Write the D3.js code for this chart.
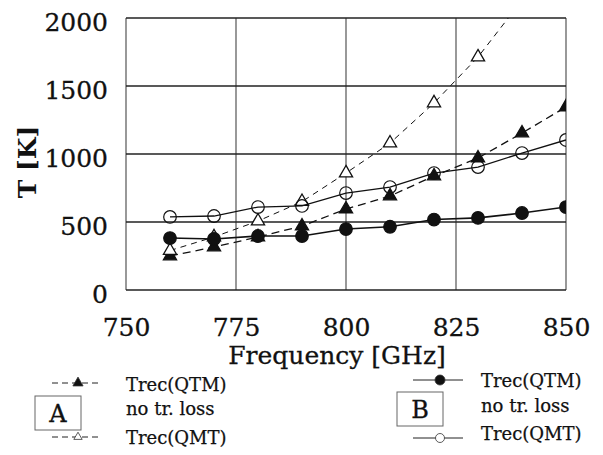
<!DOCTYPE html>
<html>
<head>
<meta charset="utf-8">
<script src="https://cdn.jsdelivr.net/npm/d3@7"></script>
<style>
  body { margin: 0; background: #fff; }
  svg text { font-family: "DejaVu Serif", "Liberation Serif", serif; fill: #111; }
</style>
</head>
<body>
<div id="chart-area"></div>
<script>
// frequency points [GHz]
var freqs = [760, 770, 780, 790, 800, 810, 820, 830, 840, 850];

// A: with transmission loss (dashed), B: no tr. loss (solid)
var qtmA = [250, 316, 390, 470, 595, 691, 838, 970, 1154, 1346];
var qmtA = [290, 390, 507, 650, 860, 1080, 1375, 1713, 2130];
var qtmB = [382, 375, 397, 397, 448, 465, 518, 530, 566, 610];
var qmtB = [537, 544, 610, 618, 713, 757, 860, 904, 1007, 1103];

var xTicks = [750, 775, 800, 825, 850];
var yTicks = [0, 500, 1000, 1500, 2000];

var width = 603, height = 455;

var svg = d3.select("#chart-area").append("svg")
    .attr("width", width)
    .attr("height", height);

var x = d3.scaleLinear().domain([750, 850]).range([126, 566]);
var y = d3.scaleLinear().domain([0, 2000]).range([290, 18]);

svg.append("clipPath").attr("id", "plot-clip")
    .append("rect")
    .attr("x", x(750)).attr("y", y(2000))
    .attr("width", x(850) - x(750)).attr("height", y(0) - y(2000));

// grid
svg.selectAll(".vgrid").data(xTicks).enter()
    .append("line")
    .attr("class", "vgrid")
    .attr("x1", function(d) { return x(d); })
    .attr("x2", function(d) { return x(d); })
    .attr("y1", y(0)).attr("y2", y(2000))
    .attr("stroke", "#444")
    .attr("stroke-width", 1.1);

svg.selectAll(".hgrid").data(yTicks).enter()
    .append("line")
    .attr("class", "hgrid")
    .attr("x1", x(750)).attr("x2", x(850))
    .attr("y1", function(d) { return y(d); })
    .attr("y2", function(d) { return y(d); })
    .attr("stroke", "#222")
    .attr("stroke-width", 1.6);

// axes (labels only, the grid draws the frame)
var xAxis = svg.append("g")
    .attr("transform", "translate(0," + y(0) + ")")
    .call(d3.axisBottom(x).tickValues(xTicks).tickSize(0).tickPadding(28).tickFormat(d3.format("d")));
xAxis.select(".domain").remove();
xAxis.selectAll("text")
    .attr("font-size", 25)
    .attr("stroke", "#111")
    .attr("stroke-width", 0.3)
    .style("font-family", "DejaVu Serif")
    .attr("fill", "#111");

var yAxis = svg.append("g")
    .attr("transform", "translate(" + x(750) + ",0)")
    .call(d3.axisLeft(y).tickValues(yTicks).tickSize(0).tickPadding(18).tickFormat(d3.format("d")));
yAxis.select(".domain").remove();
yAxis.selectAll("text")
    .attr("font-size", 25)
    .attr("dy", "0.5em")
    .attr("stroke", "#111")
    .attr("stroke-width", 0.3)
    .style("font-family", "DejaVu Serif")
    .attr("fill", "#111");

svg.append("text")
    .attr("x", 337).attr("y", 364)
    .attr("text-anchor", "middle")
    .attr("font-size", 25)
    .attr("stroke", "#111")
    .attr("stroke-width", 0.3)
    .text("Frequency [GHz]");

svg.append("text")
    .attr("transform", "translate(36,162) rotate(-90)")
    .attr("text-anchor", "middle")
    .attr("font-size", 25)
    .attr("font-weight", "bold")
    .text("T [K]");

// series
var series = [
    { name: "qtmA", values: qtmA, dash: "8,5", width: 1.3, marker: "tri", fill: "#111" },
    { name: "qmtA", values: qmtA, dash: "6,5", width: 1.0, marker: "tri", fill: "#fff" },
    { name: "qtmB", values: qtmB, dash: null, width: 1.6, marker: "circle", fill: "#111" },
    { name: "qmtB", values: qmtB, dash: null, width: 1.3, marker: "circle", fill: "#fff" }
];

var line = d3.line()
    .x(function(d) { return x(d.f); })
    .y(function(d) { return y(d.v); });

var plot = svg.append("g").attr("clip-path", "url(#plot-clip)");

var triangle = d3.symbol().type(d3.symbolTriangle).size(75);

series.forEach(function(s) {
    var pts = s.values.map(function(v, i) { return { f: freqs[i], v: v }; });

    plot.append("path")
        .datum(pts)
        .attr("d", line)
        .attr("fill", "none")
        .attr("stroke", "#111")
        .attr("stroke-width", s.width)
        .attr("stroke-dasharray", s.dash);

    if (s.marker === "circle") {
        plot.selectAll(".m-" + s.name).data(pts).enter()
            .append("circle")
            .attr("class", "m-" + s.name)
            .attr("cx", function(d) { return x(d.f); })
            .attr("cy", function(d) { return y(d.v); })
            .attr("r", 6.3)
            .attr("fill", s.fill === "#fff" ? "none" : s.fill)
            .attr("stroke", "#111")
            .attr("stroke-width", 1.2);
    } else {
        plot.selectAll(".m-" + s.name).data(pts).enter()
            .append("path")
            .attr("class", "m-" + s.name)
            .attr("d", triangle)
            .attr("transform", function(d) { return "translate(" + x(d.f) + "," + y(d.v) + ")"; })
            .attr("fill", s.fill)
            .attr("stroke", "#111")
            .attr("stroke-width", 1.3);
    }
});

// legends
function legendBlock(boxX, boxY, letter, lineX, textX, rows, kind) {
    svg.append("rect")
        .attr("x", boxX).attr("y", boxY)
        .attr("width", 46).attr("height", 34)
        .attr("fill", "none")
        .attr("stroke", "#666")
        .attr("stroke-width", 1);
    svg.append("text")
        .attr("x", boxX + 23).attr("y", boxY + 26)
        .attr("text-anchor", "middle")
        .attr("font-size", 24)
        .attr("stroke", "#111")
        .attr("stroke-width", 0.3)
        .text(letter);

    rows.forEach(function(r) {
        svg.append("text")
            .attr("x", textX).attr("y", r.ty)
            .attr("font-size", 18)
            .attr("stroke", "#111")
            .attr("stroke-width", 0.25)
            .text(r.label);
        if (r.ly == null) return;
        svg.append("line")
            .attr("x1", lineX).attr("x2", lineX + 50)
            .attr("y1", r.ly).attr("y2", r.ly)
            .attr("stroke", "#222")
            .attr("stroke-width", 1)
            .attr("stroke-dasharray", kind === "A" ? "6,4" : null);
        if (kind === "A") {
            svg.append("path")
                .attr("d", d3.symbol().type(d3.symbolTriangle).size(r.filled ? 45 : 30))
                .attr("transform", "translate(" + (lineX + 26) + "," + r.ly + ")")
                .attr("fill", r.filled ? "#111" : "#fff")
                .attr("stroke", "#333")
                .attr("stroke-width", 0.8);
        } else {
            svg.append("circle")
                .attr("cx", lineX + 27).attr("cy", r.ly)
                .attr("r", r.filled ? 5 : 4.5)
                .attr("fill", r.filled ? "#111" : "#fff")
                .attr("stroke", "#333")
                .attr("stroke-width", 0.8);
        }
    });
}

legendBlock(35, 396, "A", 52, 126, [
    { label: "Trec(QTM)", ty: 391, ly: 383, filled: true },
    { label: "no tr. loss", ty: 415, ly: null },
    { label: "Trec(QMT)", ty: 444, ly: 437, filled: false }
], "A");

legendBlock(397, 392, "B", 413, 481, [
    { label: "Trec(QTM)", ty: 387, ly: 380, filled: true },
    { label: "no tr. loss", ty: 412, ly: null },
    { label: "Trec(QMT)", ty: 440, ly: 438, filled: false }
], "B");
</script>
</body>
</html>
